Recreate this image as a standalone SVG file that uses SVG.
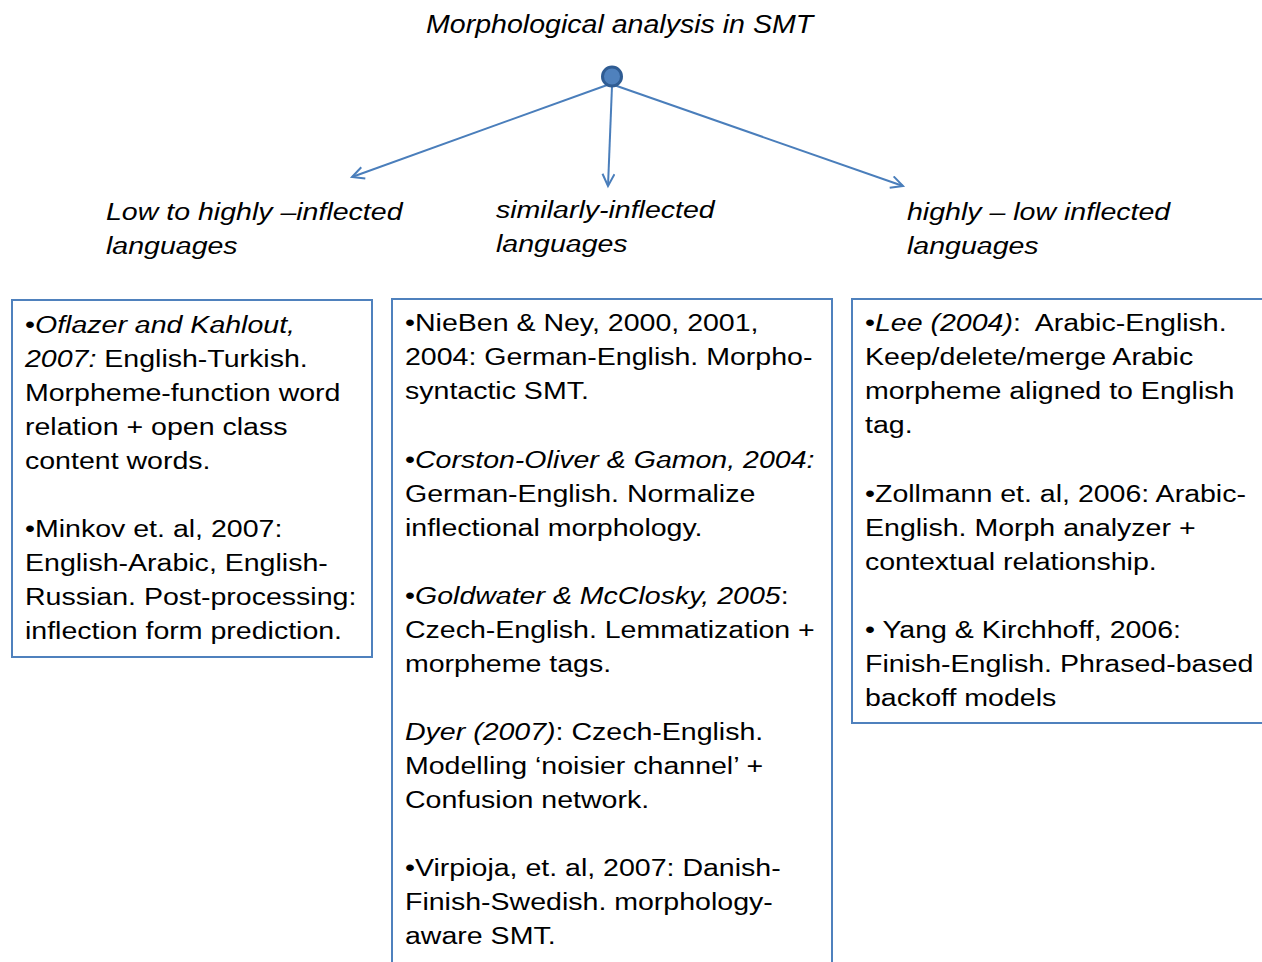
<svg xmlns="http://www.w3.org/2000/svg" width="1262" height="962" viewBox="0 0 1262 962">
<style>
text{font-family:"Liberation Sans",Arial,sans-serif;font-size:24.5px;fill:#000}
.i{font-style:italic}
.box{fill:#fff;stroke:#4F81BD;stroke-width:2}
.conn{stroke:#4A7EBB;stroke-width:2;fill:none;marker-end:url(#arr)}
</style>
<defs>
<marker id="arr" markerUnits="userSpaceOnUse" markerWidth="20" markerHeight="20" refX="13" refY="7" orient="auto" viewBox="0 0 20 20">
<path d="M1,1 L13,7 L1,13" fill="none" stroke="#4A7EBB" stroke-width="2"/>
</marker>
</defs>
<rect width="1262" height="962" fill="#fff"/>
<g id="title">
<text class="i" transform="translate(426,0) scale(1.12,1)"><tspan x="0" y="33" font-size="25.5">Morphological analysis in SMT</tspan></text>
</g>
<g id="connectors">
<line class="conn" x1="610" y1="84" x2="352" y2="177"/>
<line class="conn" x1="612" y1="86" x2="608" y2="186"/>
<line class="conn" x1="614" y1="85" x2="903" y2="186"/>
</g>
<g id="root">
<circle cx="612" cy="76.5" r="9.5" fill="#4F81BD" stroke="#2F5C93" stroke-width="3"/>
</g>
<g id="cat-low-high">
<text class="i" transform="translate(106,0) scale(1.165,1)"><tspan x="0" y="220">Low to highly –inflected</tspan><tspan x="0" y="254">languages</tspan></text>
</g>
<g id="cat-similar">
<text class="i" transform="translate(496,0) scale(1.165,1)"><tspan x="0" y="218">similarly-inflected</tspan><tspan x="0" y="252">languages</tspan></text>
</g>
<g id="cat-high-low">
<text class="i" transform="translate(907,0) scale(1.165,1)"><tspan x="0" y="220">highly – low inflected</tspan><tspan x="0" y="254">languages</tspan></text>
</g>
<g id="box-left">
<rect class="box" x="12" y="300" width="360" height="357"/>
<text transform="translate(25,0) scale(1.165,1)">
<tspan x="0" y="333">•<tspan class="i">Oflazer and Kahlout,</tspan></tspan>
<tspan x="0" y="367"><tspan class="i">2007:</tspan> English-Turkish.</tspan>
<tspan x="0" y="401">Morpheme-function word</tspan>
<tspan x="0" y="435">relation + open class</tspan>
<tspan x="0" y="469">content words.</tspan>
<tspan x="0" y="537">•Minkov et. al, 2007:</tspan>
<tspan x="0" y="571">English-Arabic, English-</tspan>
<tspan x="0" y="605">Russian. Post-processing:</tspan>
<tspan x="0" y="639">inflection form prediction.</tspan>
</text>
</g>
<g id="box-middle">
<rect class="box" x="392" y="299" width="440" height="680"/>
<text transform="translate(405,0) scale(1.165,1)">
<tspan x="0" y="331">•NieBen &amp; Ney, 2000, 2001,</tspan>
<tspan x="0" y="365">2004: German-English. Morpho-</tspan>
<tspan x="0" y="399">syntactic SMT.</tspan>
<tspan x="0" y="468">•<tspan class="i">Corston-Oliver &amp; Gamon, 2004:</tspan></tspan>
<tspan x="0" y="502">German-English. Normalize</tspan>
<tspan x="0" y="536">inflectional morphology.</tspan>
<tspan x="0" y="604">•<tspan class="i">Goldwater &amp; McClosky, 2005</tspan>:</tspan>
<tspan x="0" y="638">Czech-English. Lemmatization +</tspan>
<tspan x="0" y="672">morpheme tags.</tspan>
<tspan x="0" y="740"><tspan class="i">Dyer (2007)</tspan>: Czech-English.</tspan>
<tspan x="0" y="774">Modelling ‘noisier channel’ +</tspan>
<tspan x="0" y="808">Confusion network.</tspan>
<tspan x="0" y="876">•Virpioja, et. al, 2007: Danish-</tspan>
<tspan x="0" y="910">Finish-Swedish. morphology-</tspan>
<tspan x="0" y="944">aware SMT.</tspan>
</text>
</g>
<g id="box-right">
<rect class="box" x="852" y="299" width="420" height="424"/>
<text transform="translate(865,0) scale(1.165,1)">
<tspan x="0" y="331">•<tspan class="i">Lee (2004)</tspan>:<tspan dx="12">Arabic-English.</tspan></tspan>
<tspan x="0" y="365">Keep/delete/merge Arabic</tspan>
<tspan x="0" y="399">morpheme aligned to English</tspan>
<tspan x="0" y="433">tag.</tspan>
<tspan x="0" y="502">•Zollmann et. al, 2006: Arabic-</tspan>
<tspan x="0" y="536">English. Morph analyzer +</tspan>
<tspan x="0" y="570">contextual relationship.</tspan>
<tspan x="0" y="638">• Yang &amp; Kirchhoff, 2006:</tspan>
<tspan x="0" y="672">Finish-English. Phrased-based</tspan>
<tspan x="0" y="706">backoff models</tspan>
</text>
</g>
</svg>
